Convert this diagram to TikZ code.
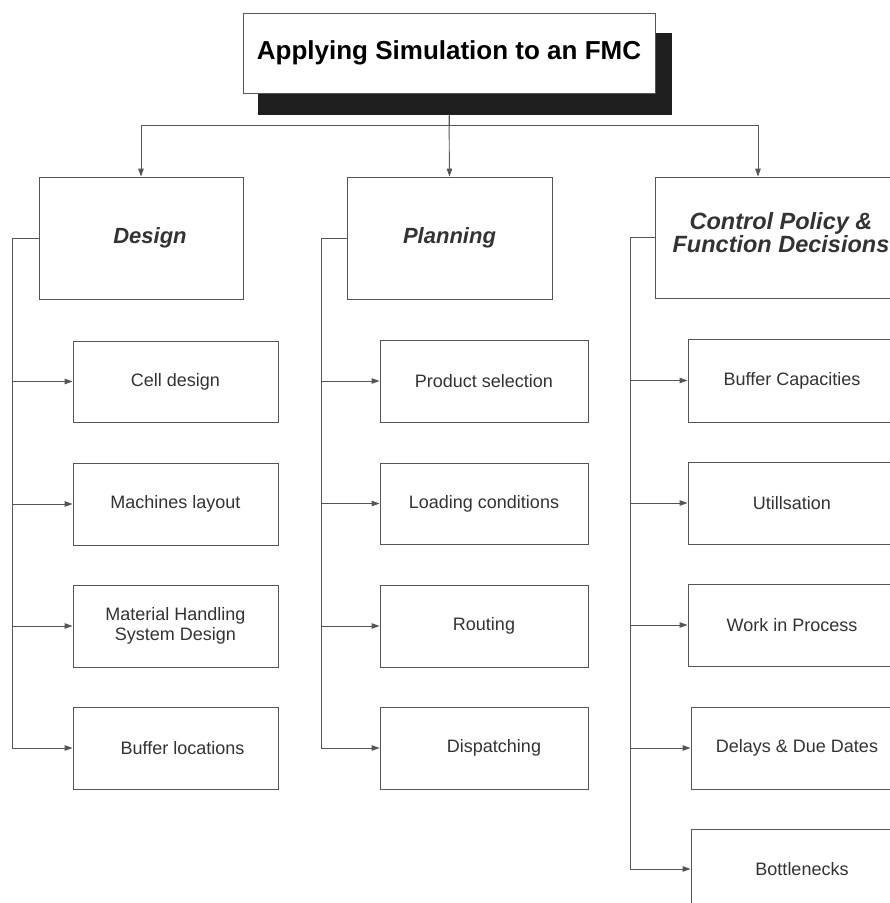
\documentclass[tikz,border=0pt]{standalone}
\usepackage{fontspec}
\newfontfamily\hv{Liberation Sans}
\usetikzlibrary{arrows.meta}
\definecolor{boxc}{HTML}{555555}
\definecolor{linec}{HTML}{555555}
\definecolor{txtc}{HTML}{333333}
\definecolor{shadowc}{HTML}{1E1E1E}
\begin{document}
\begin{tikzpicture}[x=1pt,y=-1pt,
  basebox/.style={draw=boxc, line width=0.9pt, fill=white, inner sep=0pt, align=center},
  titlebox/.style={basebox, text=black, font=\hv\bfseries\fontsize{26}{30}\selectfont},
  catbox/.style={basebox, text=txtc, font=\hv\bfseries\itshape\fontsize{22}{24}\selectfont, minimum height=122pt},
  subbox/.style={basebox, text=txtc, font=\hv\fontsize{18}{20}\selectfont, minimum height=82pt},
  conn/.style={draw=linec, line width=0.9pt},
  arr/.style={conn, -{Triangle[length=8pt,width=5.5pt]}}
]
\useasboundingbox (0,0) rectangle (890,903);
\clip (0,0) rectangle (890,903);

% title with shadow
\fill[shadowc] (258,33) rectangle (672,115);
\node[titlebox, minimum width=412pt, minimum height=80pt] (title) at (449,53) {Applying Simulation to an FMC};

% categories
\node[catbox, minimum width=204pt] (design) at (141,238) {\hspace*{18pt}Design};
\node[catbox, minimum width=205pt] (planning) at (449.5,238) {Planning};
\node[catbox, minimum width=252pt, minimum height=121pt, font=\hv\bfseries\itshape\fontsize{23.5}{22.5}\selectfont] (control) at (781,237.5) {Control Policy \&\\Function Decisions\\[-12pt]\mbox{}};

% design column
\node[subbox, minimum width=205pt, minimum height=81pt] (cell) at (175.5,381.5) {Cell design};
\node[subbox, minimum width=205pt] (mach) at (175.5,504) {Machines layout};
\node[subbox, minimum width=205pt] (mhs) at (175.5,626) {Material Handling\\System Design};
\node[subbox, minimum width=205pt] (bufloc) at (175.5,748) {\hspace*{14pt}Buffer locations};

% planning column
\node[subbox, minimum width=208pt] (prod) at (484,381) {Product selection};
\node[subbox, minimum width=208pt, minimum height=81pt] (load) at (484,503.5) {Loading conditions};
\node[subbox, minimum width=208pt] (rout) at (484,626) {Routing};
\node[subbox, minimum width=208pt] (disp) at (484,748) {\hspace*{20pt}Dispatching};

% control column
\node[subbox, minimum width=208pt, minimum height=83pt] (bufcap) at (792,380.5) {Buffer Capacities};
\node[subbox, minimum width=208pt] (util) at (792,503) {Utillsation};
\node[subbox, minimum width=208pt] (wip) at (792,625) {Work in Process};
\node[subbox, minimum width=212pt] (delay) at (797,748) {Delays \& Due Dates};
\node[subbox, minimum width=222pt, minimum height=80pt] (bott) at (802,869) {Bottlenecks};

% title to categories
\coordinate (tb) at ([yshift=-22pt]title.south);
\draw[arr] (tb) -- ++(0,10) -| (design.north);
\draw[arr] (tb) -- (planning.north);
\draw[arr] (tb) -- ++(0,10) -| ([xshift=-23pt]control.north);

% design bracket
\foreach \n in {cell,mach,mhs,bufloc}
  \draw[arr] (design.west) -- ++(-26,0) |- (\n.west);
% planning bracket
\foreach \n in {prod,load,rout,disp}
  \draw[arr] (planning.west) -- ++(-25,0) |- (\n.west);
% control bracket
\foreach \n in {bufcap,util,wip,delay,bott}
  \draw[arr] (control.west) -- ++(-24,0) |- (\n.west);
\end{tikzpicture}
\end{document}
